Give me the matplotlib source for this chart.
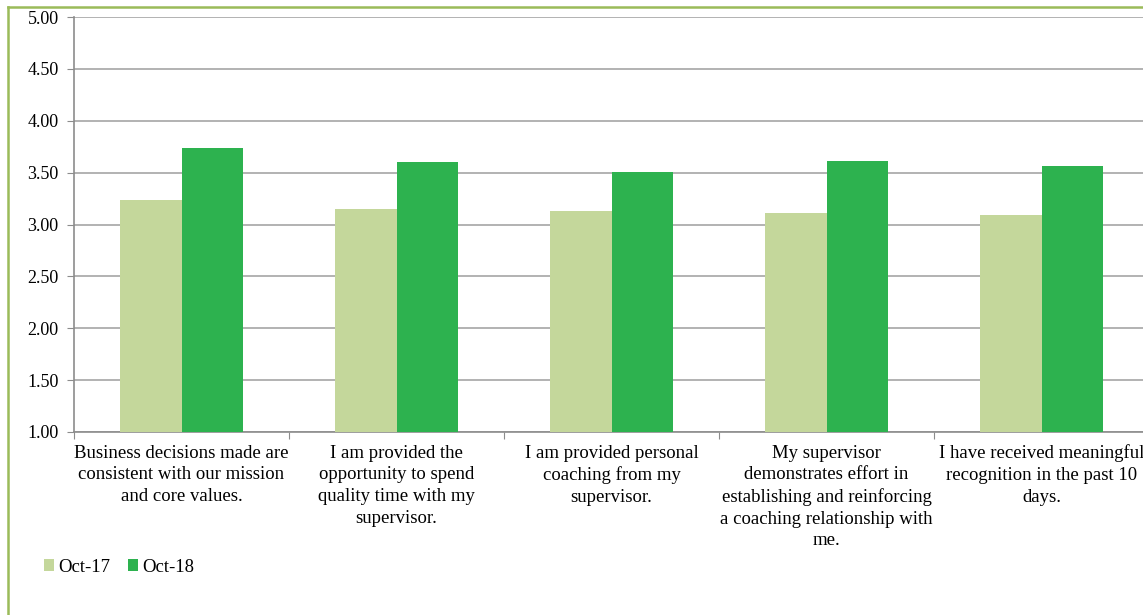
import numpy as np
import matplotlib
matplotlib.use("Agg")
import matplotlib.pyplot as plt
from matplotlib.lines import Line2D

plt.rcParams['font.family'] = ['Liberation Serif', 'DejaVu Serif']

## questions du sondage (retours à la ligne comme dans le rapport)
questions = [
    "Business decisions made are\nconsistent with our mission\nand core values.",
    "I am provided the\nopportunity to spend\nquality time with my\nsupervisor.",
    "I am provided personal\ncoaching from my\nsupervisor.",
    "My supervisor\ndemonstrates effort in\nestablishing and reinforcing\na coaching relationship with\nme.",
    "I have received meaningful\nrecognition in the past 10\ndays.",
]
oct17 = [3.24, 3.15, 3.13, 3.11, 3.09]
oct18 = [3.74, 3.60, 3.51, 3.61, 3.56]
series_names = ["Oct-17", "Oct-18"]
yticks = [1.0, 1.5, 2.0, 2.5, 3.0, 3.5, 4.0, 4.5, 5.0]

c17 = '#c4d79b'
c18 = '#2db24f'

fig = plt.figure(figsize=(11.43, 6.15), dpi=100)
ax = fig.add_axes([74 / 1143, 183 / 615, 1075 / 1143, 415 / 615])

x = np.arange(len(questions))
w = 0.286
ax.bar(x - w / 2, oct17, w, bottom=0, color=c17, label=series_names[0], zorder=3)
ax.bar(x + w / 2, oct18, w, bottom=0, color=c18, label=series_names[1], zorder=3)

ax.set_xlim(-0.5, len(questions) - 0.5)
ax.set_ylim(1, 5)
ax.set_yticks(yticks)
ax.set_yticklabels(['%.2f' % v for v in yticks], fontsize=13)
ax.yaxis.grid(True, color='#a6a6a6', linewidth=1.2, zorder=0)
ax.set_axisbelow(True)

## ticks entre les catégories, étiquettes au centre
ax.set_xticks(np.arange(len(questions) + 1) - 0.5)
ax.set_xticklabels([])
ax.set_xticks(x, minor=True)
ax.set_xticklabels(questions, minor=True, fontsize=13.5, linespacing=1.36)
ax.tick_params(axis='x', which='minor', length=0, pad=9)
ax.tick_params(axis='x', which='major', length=5, color='#8c8c8c', direction='out')
ax.tick_params(axis='y', length=5, color='#8c8c8c', pad=6)

for s in ['top', 'right']:
    ax.spines[s].set_visible(False)
for s in ['left', 'bottom']:
    ax.spines[s].set_color('#8c8c8c')
    ax.spines[s].set_linewidth(1.2)

leg = fig.legend(loc='center left', bbox_to_anchor=(44 / 1143, 1 - 567 / 615), ncol=2,
                 frameon=False, fontsize=13.5, handlelength=0.55, handleheight=0.55,
                 handletextpad=0.2, columnspacing=0.95, borderpad=0, borderaxespad=0)

## cadre vert du graphique (haut et gauche)
fig.add_artist(Line2D([8 / 1143, 8 / 1143], [0.002, 1 - 6.5 / 615], color='#9bbb59', linewidth=1.8))
fig.add_artist(Line2D([8 / 1143, 1.0], [1 - 6.5 / 615, 1 - 6.5 / 615], color='#9bbb59', linewidth=1.8))

fig.savefig('out.png', dpi=100)
